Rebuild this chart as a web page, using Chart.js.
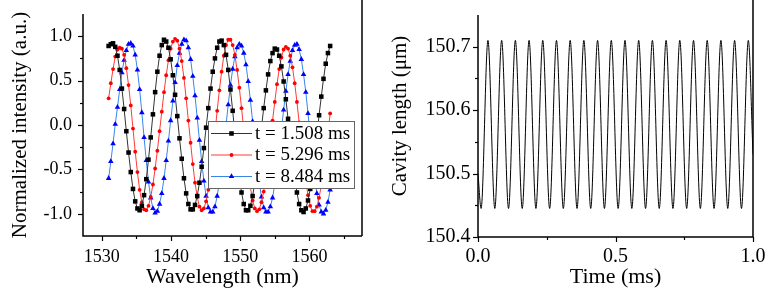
<!DOCTYPE html>
<html><head><meta charset="utf-8">
<script src="https://cdn.jsdelivr.net/npm/chart.js@4.4.1/dist/chart.umd.min.js"></script>
<style>
html,body{margin:0;padding:0;background:#fff;}
#wrap{position:relative;width:775px;height:300px;overflow:hidden;background:#fff;}
#c1{position:absolute;left:0;top:0;}
#c2{position:absolute;left:387px;top:0;}
</style></head><body>
<div id="wrap"><canvas id="c1" width="387" height="300"></canvas><canvas id="c2" width="388" height="300"></canvas></div>
<script>
// ---------- Left panel data ----------
const wavelengths = [1531.00,1531.32,1531.64,1531.96,1532.28,1532.60,1532.92,1533.24,1533.56,1533.88,
1534.20,1534.52,1534.84,1535.16,1535.48,1535.80,1536.12,1536.44,1536.76,1537.08,
1537.40,1537.72,1538.04,1538.36,1538.68,1539.00,1539.32,1539.64,1539.96,1540.28,
1540.60,1540.92,1541.24,1541.56,1541.88,1542.20,1542.52,1542.84,1543.16,1543.48,
1543.80,1544.12,1544.44,1544.76,1545.08,1545.40,1545.72,1546.04,1546.36,1546.68,
1547.00,1547.32,1547.64,1547.96,1548.28,1548.60,1548.92,1549.24,1549.56,1549.88,
1550.20,1550.52,1550.84,1551.16,1551.48,1551.80,1552.12,1552.44,1552.76,1553.08,
1553.40,1553.72,1554.04,1554.36,1554.68,1555.00,1555.32,1555.64,1555.96,1556.28,
1556.60,1556.92,1557.24,1557.56,1557.88,1558.20,1558.52,1558.84,1559.16,1559.48,
1559.80,1560.12,1560.44,1560.76,1561.08,1561.40,1561.72,1562.04,1562.36,1562.68,
1563.00];

const intensity_t1508 = [0.89,0.91,0.92,0.88,0.78,0.62,0.41,0.18,-0.07,-0.31,
-0.53,-0.72,-0.86,-0.94,-0.96,-0.91,-0.79,-0.61,-0.39,-0.14,
0.12,0.37,0.60,0.78,0.90,0.96,0.94,0.87,0.74,0.56,
0.34,0.10,-0.15,-0.38,-0.60,-0.77,-0.89,-0.95,-0.95,-0.90,
-0.80,-0.65,-0.47,-0.26,-0.03,0.19,0.41,0.60,0.75,0.87,
0.94,0.95,0.90,0.79,0.62,0.40,0.16,-0.10,-0.35,-0.58,
-0.76,-0.89,-0.96,-0.96,-0.91,-0.80,-0.65,-0.47,-0.26,-0.03,
0.19,0.39,0.57,0.72,0.81,0.86,0.85,0.78,0.66,0.49,
0.29,0.07,-0.16,-0.39,-0.59,-0.76,-0.89,-0.96,-0.98,-0.94,
-0.85,-0.72,-0.54,-0.34,-0.12,0.11,0.32,0.52,0.69,0.81,
0.89];

const intensity_t5296 = [0.30,0.47,0.63,0.77,0.85,0.87,0.86,0.79,0.64,0.45,
0.22,-0.04,-0.30,-0.53,-0.73,-0.87,-0.95,-0.96,-0.91,-0.81,
-0.67,-0.49,-0.29,-0.07,0.15,0.37,0.56,0.73,0.86,0.94,
0.97,0.95,0.86,0.72,0.53,0.30,0.05,-0.20,-0.44,-0.65,
-0.81,-0.92,-0.96,-0.94,-0.86,-0.73,-0.54,-0.33,-0.09,0.16,
0.39,0.60,0.78,0.90,0.96,0.96,0.90,0.79,0.62,0.42,
0.19,-0.05,-0.29,-0.51,-0.70,-0.85,-0.94,-0.97,-0.95,-0.87,
-0.75,-0.58,-0.39,-0.18,0.05,0.26,0.46,0.63,0.76,0.85,
0.88,0.86,0.78,0.65,0.47,0.26,0.03,-0.21,-0.43,-0.63,
-0.79,-0.91,-0.97,-0.97,-0.92,-0.82,-0.68,-0.51,-0.30,-0.09,
0.13];

const intensity_t8484 = [-0.60,-0.41,-0.21,0.01,0.20,0.40,0.59,0.73,0.84,0.91,
0.92,0.89,0.79,0.62,0.40,0.14,-0.14,-0.40,-0.64,-0.82,
-0.94,-0.99,-0.97,-0.89,-0.77,-0.60,-0.40,-0.18,0.05,0.27,
0.48,0.67,0.81,0.91,0.96,0.95,0.87,0.74,0.55,0.33,
0.08,-0.17,-0.41,-0.63,-0.80,-0.93,-0.98,-0.98,-0.92,-0.80,
-0.64,-0.45,-0.23,0.00,0.23,0.45,0.63,0.77,0.87,0.91,
0.89,0.81,0.68,0.49,0.28,0.04,-0.21,-0.44,-0.65,-0.81,
-0.93,-0.98,-0.98,-0.92,-0.82,-0.67,-0.48,-0.27,-0.05,0.17,
0.38,0.57,0.72,0.84,0.90,0.91,0.85,0.74,0.57,0.37,
0.13,-0.12,-0.36,-0.59,-0.77,-0.90,-0.98,-1.00,-0.96,-0.87,
-0.73];

const seriesLabels = ['t = 1.508 ms','t = 5.296 ms','t = 8.484 ms'];

// ---------- Right panel data ----------
const timeMs = [0, 0.0113, 0.0362, 0.0611, 0.0860, 0.1110, 0.1359, 0.1608, 0.1857, 0.2106,
0.2355, 0.2605, 0.2854, 0.3103, 0.3352, 0.3601, 0.3850, 0.4099, 0.4348, 0.4598,
0.4847, 0.5096, 0.5345, 0.5594, 0.5843, 0.6093, 0.6342, 0.6591, 0.6840, 0.7089,
0.7338, 0.7588, 0.7837, 0.8086, 0.8335, 0.8584, 0.8833, 0.9082, 0.9331, 0.9581,
0.9830, 1.0];
const cavityLength = [150.50, 150.445, 150.71, 150.445, 150.71, 150.445, 150.71, 150.445, 150.71, 150.445,
150.71, 150.445, 150.71, 150.445, 150.71, 150.445, 150.71, 150.445, 150.71, 150.445,
150.71, 150.445, 150.71, 150.445, 150.71, 150.445, 150.71, 150.445, 150.71, 150.445,
150.71, 150.445, 150.71, 150.445, 150.71, 150.445, 150.71, 150.445, 150.71, 150.445,
150.71, 150.53];

// ---------- Styling ----------
const SERIF = "'Liberation Serif','Times New Roman',Times,serif";
const TICK_FONT_L = {family: SERIF, size: 18};
const TICK_FONT_R = {family: SERIF, size: 20};
const XTITLE_FONT = {family: SERIF, size: 22};
const YTITLE_FONT = {family: SERIF, size: 21};

function zeroPad(s) { s.paddingTop = 0; s.paddingBottom = 0; s.paddingLeft = 0; s.paddingRight = 0; }

const frameAndTicks = {
  id: 'frameAndTicks',
  afterDraw(chart) {
    const ctx = chart.ctx, ca = chart.chartArea;
    ctx.save();
    ctx.strokeStyle = '#000';
    ctx.lineWidth = 1.2;
    ['x','y'].forEach(id => {
      const s = chart.scales[id];
      s.ticks.forEach(t => {
        const major = t.label !== '' && t.label !== undefined;
        const edge = Math.abs(t.value - s.min) < 1e-9 || Math.abs(t.value - s.max) < 1e-9;
        if (!major && edge) return;
        const len = major ? 5 : 3;
        const p = Math.round(s.getPixelForValue(t.value)) + 0.5;
        ctx.beginPath();
        if (id === 'x') { ctx.moveTo(p, ca.bottom); ctx.lineTo(p, ca.bottom + len); }
        else { ctx.moveTo(ca.left, p); ctx.lineTo(ca.left - len, p); }
        ctx.stroke();
      });
    });
    ctx.lineWidth = 1.5;
    ctx.beginPath();
    ctx.moveTo(ca.left, ca.top); ctx.lineTo(ca.left, ca.bottom); ctx.lineTo(ca.right, ca.bottom);
    ctx.moveTo(ca.right, 0); ctx.lineTo(ca.right, ca.bottom);
    ctx.stroke();
    ctx.restore();
  }
};

const boxLegend = {
  id: 'boxLegend',
  afterDatasetsDraw(chart) {
    const ctx = chart.ctx;
    const bx = 208.5, by = 121.5, bw = 146, bh = 67;
    ctx.save();
    ctx.fillStyle = '#fff';
    ctx.fillRect(bx, by, bw, bh);
    ctx.strokeStyle = '#666';
    ctx.lineWidth = 1;
    ctx.strokeRect(bx, by, bw, bh);
    const rows = [133.5, 155, 176.5];
    chart.data.datasets.forEach((ds, i) => {
      const y = rows[i];
      ctx.strokeStyle = ds.borderColor;
      ctx.lineWidth = ds.borderWidth;
      ctx.beginPath(); ctx.moveTo(211, y); ctx.lineTo(252, y); ctx.stroke();
      ctx.fillStyle = ds.pointBackgroundColor;
      Chart.helpers.drawPoint(ctx, {pointStyle: ds.pointStyle, radius: ds.pointRadius, rotation: 0, borderWidth: 0}, 231.5, y);
      ctx.fillStyle = '#000';
      ctx.font = "19px " + SERIF;
      ctx.textBaseline = 'middle';
      ctx.textAlign = 'left';
      ctx.fillText(ds.label, 255, y + 0.5);
    });
    ctx.restore();
  }
};

const rightYTitle = {
  id: 'rightYTitle',
  afterDraw(chart) {
    const ctx = chart.ctx;
    ctx.save();
    ctx.translate(13, 116);
    ctx.rotate(-Math.PI / 2);
    ctx.fillStyle = '#000';
    ctx.font = "21px " + SERIF;
    ctx.textAlign = 'center';
    ctx.textBaseline = 'middle';
    ctx.fillText('Cavity length (μm)', 0, 0);
    ctx.restore();
  }
};

function xy(xs, ys) { return xs.map((x, i) => ({x: x, y: ys[i]})); }

// ---------- Left chart ----------
new Chart(document.getElementById('c1'), {
  type: 'line',
  data: {
    datasets: [
      {label: seriesLabels[0], data: xy(wavelengths, intensity_t1508), borderColor: '#333', borderWidth: 1,
       pointStyle: 'rect', pointRadius: 3.2, pointBackgroundColor: '#000', pointBorderWidth: 0, tension: 0},
      {label: seriesLabels[1], data: xy(wavelengths, intensity_t5296), borderColor: '#ff3a3a', borderWidth: 1,
       pointStyle: 'circle', pointRadius: 1.9, pointBackgroundColor: '#ff0000', pointBorderWidth: 0, tension: 0},
      {label: seriesLabels[2], data: xy(wavelengths, intensity_t8484), borderColor: '#3a86e8', borderWidth: 1,
       pointStyle: 'triangle', pointRadius: 3.2, pointBackgroundColor: '#0000ff', pointBorderWidth: 0, tension: 0}
    ]
  },
  options: {
    responsive: false, animation: false, devicePixelRatio: 1,
    layout: {padding: {top: 14, right: 25, bottom: 0, left: 0}},
    plugins: {legend: {display: false}, tooltip: {enabled: false}},
    scales: {
      x: {
        type: 'linear', min: 1527.3, max: 1567.6,
        afterFit(s) { s.height = 64; zeroPad(s); },
        grid: {display: true, drawOnChartArea: false, drawTicks: false},
        border: {display: false},
        ticks: {stepSize: 5, includeBounds: false, autoSkip: false, maxRotation: 0, padding: 10,
                color: '#000', font: TICK_FONT_L,
                callback: v => (Math.round(v) % 10 === 0 ? String(Math.round(v)) : '')},
        title: {display: true, text: 'Wavelength (nm)', color: '#000', font: XTITLE_FONT, padding: {top: 0, bottom: 10}}
      },
      y: {
        type: 'linear', min: -1.25, max: 1.25,
        afterFit(s) { s.width = 83; zeroPad(s); },
        grid: {display: true, drawOnChartArea: false, drawTicks: false},
        border: {display: false},
        ticks: {stepSize: 0.25, autoSkip: false, padding: 11, color: '#000', font: TICK_FONT_L,
                callback: v => { const r = Math.round(v * 100); return (r % 50 === 0 && Math.abs(r) <= 100) ? (r / 100).toFixed(1) : ''; }},
        title: {display: true, text: 'Normalized intensity (a.u.)', color: '#000', font: YTITLE_FONT, padding: {top: 7.5, bottom: 0}}
      }
    }
  },
  plugins: [boxLegend, frameAndTicks]
});

// ---------- Right chart ----------
new Chart(document.getElementById('c2'), {
  type: 'line',
  data: {
    datasets: [
      {label: 'Cavity length', data: xy(timeMs, cavityLength), borderColor: '#000', borderWidth: 1,
       pointRadius: 0, cubicInterpolationMode: 'monotone'}
    ]
  },
  options: {
    responsive: false, animation: false, devicePixelRatio: 1,
    layout: {padding: {top: 15, right: 22, bottom: 0, left: 0}},
    plugins: {legend: {display: false}, tooltip: {enabled: false}},
    scales: {
      x: {
        type: 'linear', min: 0, max: 1.0,
        afterFit(s) { s.height = 63; zeroPad(s); },
        grid: {display: true, drawOnChartArea: false, drawTicks: false},
        border: {display: false},
        ticks: {stepSize: 0.25, autoSkip: false, maxRotation: 0, padding: 8, color: '#000', font: TICK_FONT_R,
                callback: v => { const r = Math.round(v * 100); return r % 50 === 0 ? (r / 100).toFixed(1) : ''; }},
        title: {display: true, text: 'Time (ms)', color: '#000', font: XTITLE_FONT, padding: {top: 0, bottom: 10}}
      },
      y: {
        type: 'linear', min: 150.4, max: 150.75,
        afterFit(s) { s.width = 91; zeroPad(s); },
        grid: {display: true, drawOnChartArea: false, drawTicks: false},
        border: {display: false},
        ticks: {stepSize: 0.05, autoSkip: false, padding: 7.5, color: '#000', font: TICK_FONT_R,
                callback: v => { const r = Math.round(v * 100); return r % 10 === 0 ? (r / 100).toFixed(1) : ''; }},
        title: {display: false}
      }
    }
  },
  plugins: [frameAndTicks, rightYTitle]
});
</script>
</body></html>
